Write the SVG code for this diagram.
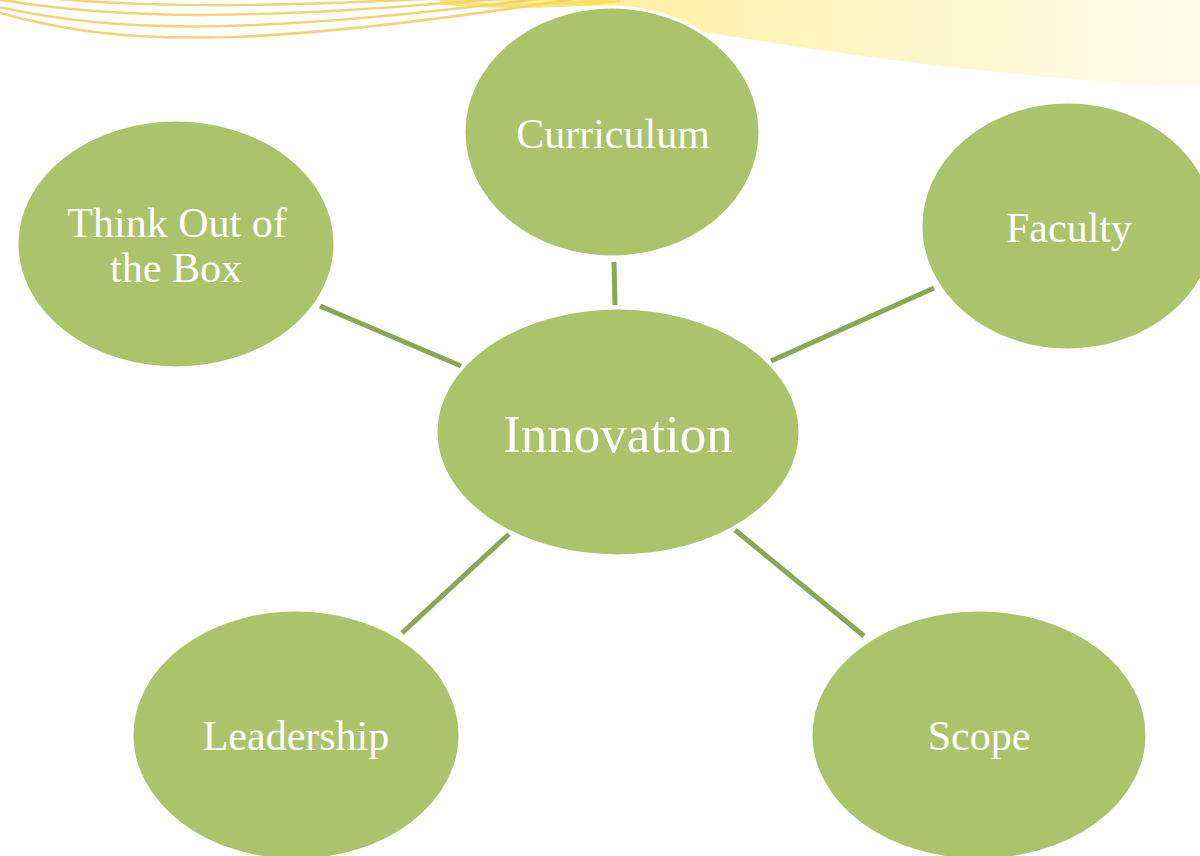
<svg xmlns="http://www.w3.org/2000/svg" width="1200" height="856" viewBox="0 0 1200 856">
  <defs>
    <linearGradient id="band" x1="0" y1="0" x2="1" y2="0">
      <stop offset="0" stop-color="#ffe97f"/>
      <stop offset="0.5" stop-color="#fff5c0"/>
      <stop offset="1" stop-color="#fffcec"/>
    </linearGradient>
    <style>
      .deco { fill: none; stroke: #f0cc60; stroke-width: 2.5; opacity: 0.85; }
      .node { fill: #abc46c; stroke: #ffffff; stroke-width: 3; }
      .lbl { font-family: "Liberation Serif", "Times New Roman", serif; fill: #ffffff; text-anchor: middle; font-size: 42px; }
      .big { font-size: 53px; }
      .conn { stroke: #8ca556; stroke-width: 5; fill: none; }
    </style>
  </defs>
  <rect width="1200" height="856" fill="#ffffff"/>
  <g id="background">
    <path d="M420,0 C520,2 600,4 650,14 L690,30 C850,55 1000,78 1200,87 L1200,0 Z" fill="url(#band)"/>
    <path class="deco" d="M-10,-8 C120,9 260,9 500,-5"/>
    <path class="deco" d="M-10,-2 C120,21 260,21 540,-5"/>
    <path class="deco" d="M-10,5 C120,35 260,35 570,-5"/>
    <path class="deco" d="M-10,10 C120,49 260,49 600,-5"/>
    <path d="M440,2 C500,8 560,6 620,0" fill="none" stroke="#f7d84e" stroke-width="5" opacity="0.7"/>
  </g>
  <g id="connectors">
    <line class="conn" x1="614" y1="262" x2="615" y2="305"/>
    <line class="conn" x1="320" y1="306" x2="461" y2="366"/>
    <line class="conn" x1="934" y1="288" x2="771" y2="361"/>
    <line class="conn" x1="402" y1="633" x2="509" y2="534"/>
    <line class="conn" x1="735" y1="530" x2="864" y2="636"/>
  </g>
  <g id="node-curriculum">
    <ellipse class="node" cx="612" cy="132" rx="148" ry="125"/>
    <text class="lbl" x="613" y="148">Curriculum</text>
  </g>
  <g id="node-think">
    <ellipse class="node" cx="176" cy="244" rx="159" ry="124"/>
    <text class="lbl" x="177" y="237">Think Out of</text>
    <text class="lbl" x="176" y="282">the Box</text>
  </g>
  <g id="node-faculty">
    <ellipse class="node" cx="1068" cy="226" rx="147" ry="124"/>
    <text class="lbl" x="1069" y="242">Faculty</text>
  </g>
  <g id="node-innovation">
    <ellipse class="node" cx="618" cy="432" rx="182" ry="124"/>
    <text class="lbl big" x="618" y="452">Innovation</text>
  </g>
  <g id="node-leadership">
    <ellipse class="node" cx="296" cy="735" rx="164" ry="125"/>
    <text class="lbl" x="296" y="750">Leadership</text>
  </g>
  <g id="node-scope">
    <ellipse class="node" cx="979" cy="735" rx="168" ry="125"/>
    <text class="lbl" x="979" y="750">Scope</text>
  </g>
</svg>
